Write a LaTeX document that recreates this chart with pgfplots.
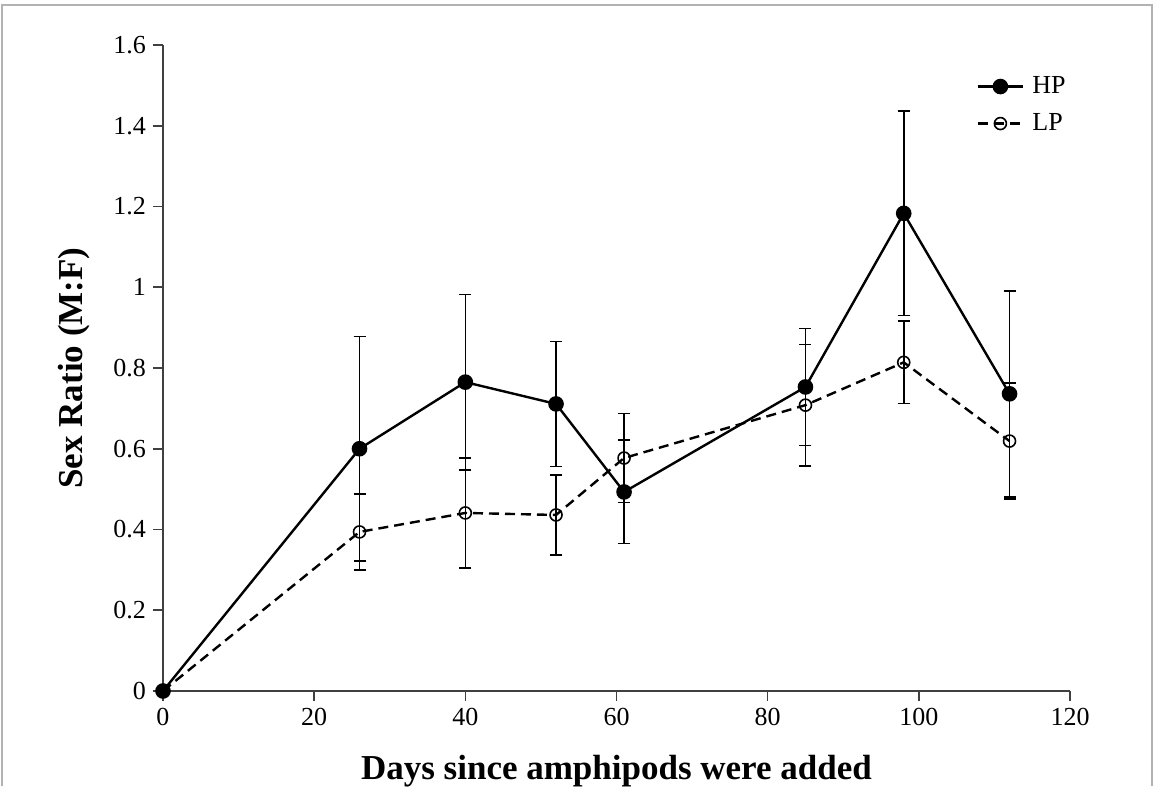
\documentclass[border=0pt]{standalone}
\usepackage{fontspec}
\setmainfont{Liberation Serif}
\usepackage{pgfplots}
\pgfplotsset{compat=1.18}
\usepackage{pgfplotstable}

\pgfplotstableread{
x   y     e
0   0     0
26  0.600 0.278
40  0.765 0.217
52  0.711 0.155
61  0.493 0.128
85  0.753 0.145
98  1.183 0.253
112 0.736 0.255
}\hpdata

\pgfplotstableread{
x   y     e
0   0     0
26  0.394 0.094
40  0.441 0.136
52  0.436 0.099
61  0.577 0.110
85  0.708 0.150
98  0.814 0.102
112 0.619 0.144
}\lpdata

\begin{document}
\begin{tikzpicture}
\useasboundingbox (-81.5pt,-47.5pt) rectangle (495.5pt,345.5pt);
\draw[gray!60, line width=1pt] (-80.5pt,-47.5pt) -- (-80.5pt,343pt) -- (494.5pt,343pt) -- (494.5pt,-47.5pt);
\begin{axis}[
  at={(0,0)}, anchor=origin,
  scale only axis, width=453.5pt, height=323pt,
  xmin=0, xmax=120, ymin=0, ymax=1.6,
  xtick={0,20,...,120}, ytick={0,0.2,...,1.6},
  axis lines=left, axis line style={-, black!75, line width=0.8pt},
  tick style={black!75, line width=0.8pt},
  tick align=outside, major tick length=5pt,
  yticklabel style={/pgf/number format/fixed, /pgf/number format/precision=1},
  /pgf/number format/assume math mode=true,
  tick label style={font=\fontsize{13}{15}\selectfont},
  xlabel={\textbf{Days since amphipods were added}},
  ylabel={\textbf{Sex Ratio (M:F)}},
  label style={font=\fontsize{17.5}{19}\selectfont},
  xlabel style={yshift=-8pt},
  ylabel style={yshift=5pt},
  legend style={draw=none, fill=none, at={(1.0,0.958)}, anchor=north east,
    font=\fontsize{13}{15}\selectfont, row sep=4.5pt, inner sep=0pt,
    /tikz/every odd column/.append style={column sep=2pt}},
  legend cell align=left,
  legend image code/.code={
    \draw[#1] (0cm,0cm) -- (0.8cm,0cm);
    \draw[#1, only marks] plot coordinates {(0.4cm,0cm)};
  },
  clip=false,
]
\addplot[black, line width=1.2pt, mark=*, mark size=3.3pt,
  error bars/.cd, y dir=both, y explicit,
  error bar style={line width=0.8pt, solid},
  error mark options={rotate=90, mark size=3pt, line width=0.8pt}]
  table[x=x, y=y, y error=e] {\hpdata};
\addlegendentry{HP}
\addplot[black, line width=1.2pt, dashed, dash pattern=on 5pt off 3pt,
  mark=o, mark size=3pt, mark options={solid, fill=white, line width=0.8pt},
  error bars/.cd, y dir=both, y explicit,
  error bar style={line width=0.8pt, solid},
  error mark options={rotate=90, mark size=3pt, line width=0.8pt, solid}]
  table[x=x, y=y, y error=e] {\lpdata};
\addlegendentry{LP}
\end{axis}
\end{tikzpicture}
\end{document}
